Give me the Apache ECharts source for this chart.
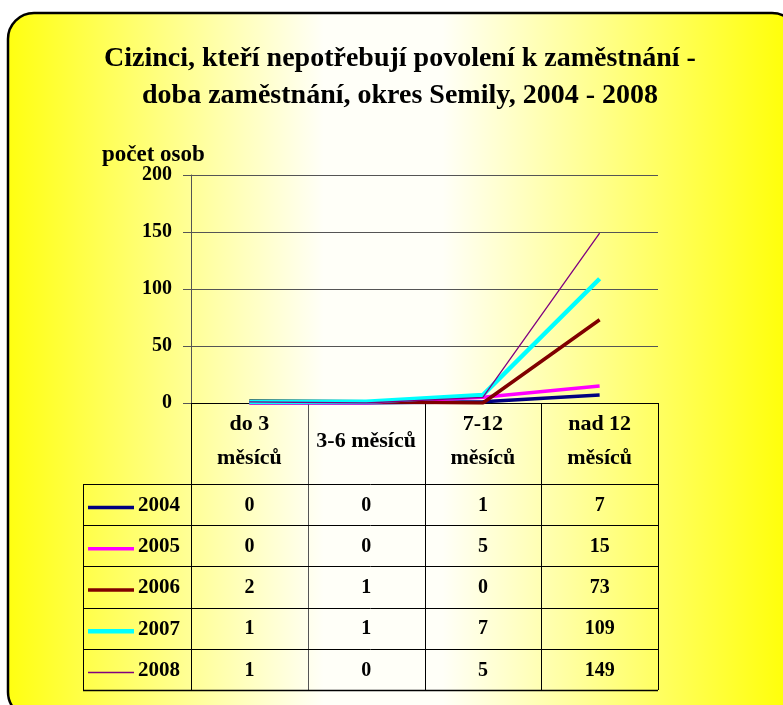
<!DOCTYPE html>
<html><head><meta charset="utf-8">
<script src="https://cdn.jsdelivr.net/npm/echarts@6/dist/echarts.min.js"></script>
<style>html,body{margin:0;padding:0;background:#fff}#c{width:783px;height:705px}</style>
</head><body><div id="c"></div>
<script>
var titleText = 'Cizinci, kteří nepotřebují povolení k zaměstnání -\ndoba zaměstnání, okres Semily, 2004 - 2008';
var yAxisName = 'počet osob';
var categories = ['do 3\nměsíců', '3-6 měsíců', '7-12\nměsíců', 'nad 12\nměsíců'];
var years = ['2004', '2005', '2006', '2007', '2008'];
var s2004 = [0, 0, 1, 7];
var s2005 = [0, 0, 5, 15];
var s2006 = [2, 1, 0, 73];
var s2007 = [1, 1, 7, 109];
var s2008 = [1, 0, 5, 149];
var seriesValues = [s2004, s2005, s2006, s2007, s2008];
var colors = ['#000080', '#FF00FF', '#800000', '#00FFFF', '#800080'];
var widths = [3.5, 3.5, 3.5, 4.5, 1.3];

var FONT = '"Liberation Serif", "Times New Roman", serif';
var W = 783, H = 705;
var gL = 191, gR = 658, gT = 175, gB = 403;
var tableLeft = 83, headerBottom = 484, tableBottom = 690;
var rowH = (tableBottom - headerBottom) / years.length;
var colW = (gR - gL) / categories.length;

var chart = echarts.init(document.getElementById('c'), null, {renderer: 'canvas'});

var graphics = [];
graphics.push({
  type: 'rect', z: -10, silent: true,
  shape: {x: 8, y: 13, width: 790, height: 705, r: 26},
  style: {
    fill: new echarts.graphic.LinearGradient(0, 0, 1, 0, [
      {offset: 0, color: '#FFFF10'},
      {offset: 0.4, color: '#FFFFF8'},
      {offset: 0.55, color: '#FFFFF8'},
      {offset: 1, color: '#FFFF00'}
    ]),
    stroke: '#000', lineWidth: 2.5
  }
});
graphics.push({type: 'text', x: 102, y: 155, style: {text: yAxisName, font: 'bold 23px ' + FONT, fill: '#000', textVerticalAlign: 'middle'}});

for (var i = 0; i <= categories.length; i++) {
  var x = Math.round(gL + i * colW) + 0.5;
  graphics.push({type: 'line', shape: {x1: x, y1: gB, x2: x, y2: tableBottom}, style: {stroke: (i === 1) ? '#555' : '#000', lineWidth: 1}});
}
graphics.push({type: 'line', shape: {x1: tableLeft + 0.5, y1: headerBottom, x2: tableLeft + 0.5, y2: tableBottom}, style: {stroke: '#000', lineWidth: 1}});
for (var r = 0; r <= years.length; r++) {
  var y = Math.round(headerBottom + r * rowH) + 0.5;
  graphics.push({type: 'line', shape: {x1: tableLeft, y1: y, x2: gR, y2: y}, style: {stroke: '#000', lineWidth: (r === years.length) ? 1.5 : 1}});
}
for (var r = 0; r < years.length; r++) {
  var cy = headerBottom + (r + 0.5) * rowH + 1;
  graphics.push({type: 'line', shape: {x1: 88, y1: cy + 2, x2: 134, y2: cy + 2}, style: {stroke: colors[r], lineWidth: Math.max(widths[r], 1.5)}});
  graphics.push({type: 'text', x: 138, y: cy, style: {text: years[r], font: 'bold 21px ' + FONT, fill: '#000', textVerticalAlign: 'middle'}});
  for (var c = 0; c < categories.length; c++) {
    graphics.push({type: 'text', x: gL + (c + 0.5) * colW, y: cy, style: {text: String(seriesValues[r][c]), font: 'bold 20px ' + FONT, fill: '#000', textAlign: 'center', textVerticalAlign: 'middle'}});
  }
}

var series = years.map(function (yr, i) {
  return {
    name: yr, type: 'line', data: seriesValues[i], symbol: 'none',
    lineStyle: {color: colors[i], width: widths[i]}, itemStyle: {color: colors[i]},
    z: 2 + i, animation: false
  };
});

chart.setOption({
  animation: false,
  title: {
    text: titleText, left: 395, top: 35, textAlign: 'center',
    textStyle: {fontFamily: FONT, fontWeight: 'bold', fontSize: 28, lineHeight: 37, color: '#000'}
  },
  grid: {left: gL, right: W - gR, top: gT, bottom: H - gB, containLabel: false},
  xAxis: {
    type: 'category', data: categories, boundaryGap: true,
    axisLine: {lineStyle: {color: '#000', width: 1}},
    axisTick: {show: false},
    axisLabel: {margin: 38, verticalAlign: 'middle', fontFamily: FONT, fontWeight: 'bold', fontSize: 22, lineHeight: 34, color: '#000', interval: 0}
  },
  yAxis: {
    type: 'value', min: 0, max: 200, interval: 50,
    axisLine: {show: true, lineStyle: {color: '#555', width: 1}},
    axisTick: {show: true, inside: false, length: 8, lineStyle: {color: '#555'}},
    splitLine: {lineStyle: {color: '#555', width: 1}},
    axisLabel: {margin: 19, fontFamily: FONT, fontWeight: 'bold', fontSize: 20, color: '#000'}
  },
  series: series,
  graphic: graphics
});
</script></body></html>
